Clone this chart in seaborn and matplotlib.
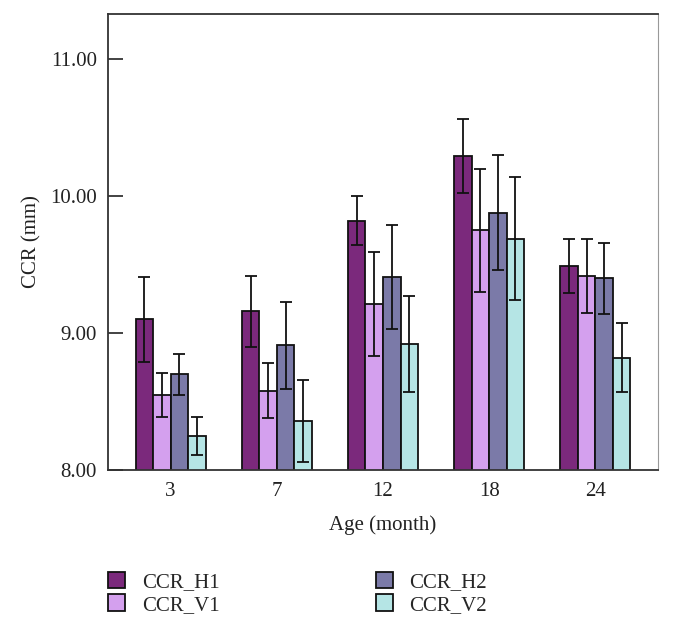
import numpy as np
import pandas as pd
import matplotlib
matplotlib.use("Agg")
import matplotlib.pyplot as plt
import seaborn as sns

# datos
edades = ["3", "7", "12", "18", "24"]
series = ["CCR_H1", "CCR_V1", "CCR_H2", "CCR_V2"]
ccr_h1 = [9.10, 9.16, 9.82, 10.29, 9.49]
ccr_v1 = [8.55, 8.58, 9.21, 9.75, 9.42]
ccr_h2 = [8.70, 8.91, 9.41, 9.88, 9.40]
ccr_v2 = [8.25, 8.36, 8.92, 9.69, 8.82]
err_h1 = [0.31, 0.26, 0.18, 0.27, 0.20]
err_v1 = [0.16, 0.20, 0.38, 0.45, 0.27]
err_h2 = [0.15, 0.32, 0.38, 0.42, 0.26]
err_v2 = [0.14, 0.30, 0.35, 0.45, 0.25]
colores = ["#7B297C", "#D4A0EE", "#7B7AA8", "#B5E5E5"]

medias = [ccr_h1, ccr_v1, ccr_h2, ccr_v2]
errores = [err_h1, err_v1, err_h2, err_v2]

df = pd.DataFrame({
    "edad": edades * len(series),
    "serie": np.repeat(series, len(edades)),
    "ccr": np.concatenate(medias),
})

sns.set_theme(style="white")
plt.rcParams["font.family"] = ["Liberation Serif", "DejaVu Serif"]

fig = plt.figure(figsize=(6.73, 6.32), dpi=100)
ax = fig.add_axes([108 / 673, 1 - 470 / 632, 550 / 673, 456 / 632])

sns.barplot(data=df, x="edad", y="ccr", hue="serie", order=edades,
            hue_order=series, palette=colores, width=0.66, errorbar=None,
            edgecolor="#111111", linewidth=1.3, saturation=1, ax=ax)

# barras de error sobre el centro de cada barra
for cont, err in zip(ax.containers, errores):
    xs = [b.get_x() + b.get_width() / 2 for b in cont]
    ys = [b.get_height() for b in cont]
    ax.errorbar(xs, ys, yerr=err, fmt="none", ecolor="#111111",
                elinewidth=1.3, capsize=4, capthick=1.3, zorder=5)

ax.set_ylim(8, 11.33)
ax.set_xlim(-0.59, 4.59)
ax.set_yticks([8, 9, 10, 11])
ax.set_yticklabels([f"{v:.2f}" for v in [8, 9, 10, 11]])
ax.tick_params(axis="y", direction="in", length=11, width=1.2,
               labelsize=15, pad=8, left=True, colors="#222222")
ax.tick_params(axis="x", length=0, labelsize=15, pad=9, colors="#222222")
ax.set_xlabel("Age (month)", fontsize=15, labelpad=10, color="#222222")
ax.set_ylabel("CCR (mm)", fontsize=15, labelpad=6, color="#222222")

for lado in ["left", "bottom", "top"]:
    ax.spines[lado].set_color("#333333")
    ax.spines[lado].set_linewidth(1.3)
ax.spines["right"].set_color("#999999")
ax.spines["right"].set_linewidth(0.8)

handles, labels = ax.get_legend_handles_labels()
ax.get_legend().remove()
fig.legend(handles, labels, loc="upper left", ncol=2,
           bbox_to_anchor=(108 / 673, 1 - 572 / 632), frameon=False,
           fontsize=15, handlelength=0.82, handleheight=0.82,
           handletextpad=0.8, columnspacing=7.5, labelspacing=0.1,
           borderpad=0, borderaxespad=0)

fig.savefig("out.png", dpi=100)
